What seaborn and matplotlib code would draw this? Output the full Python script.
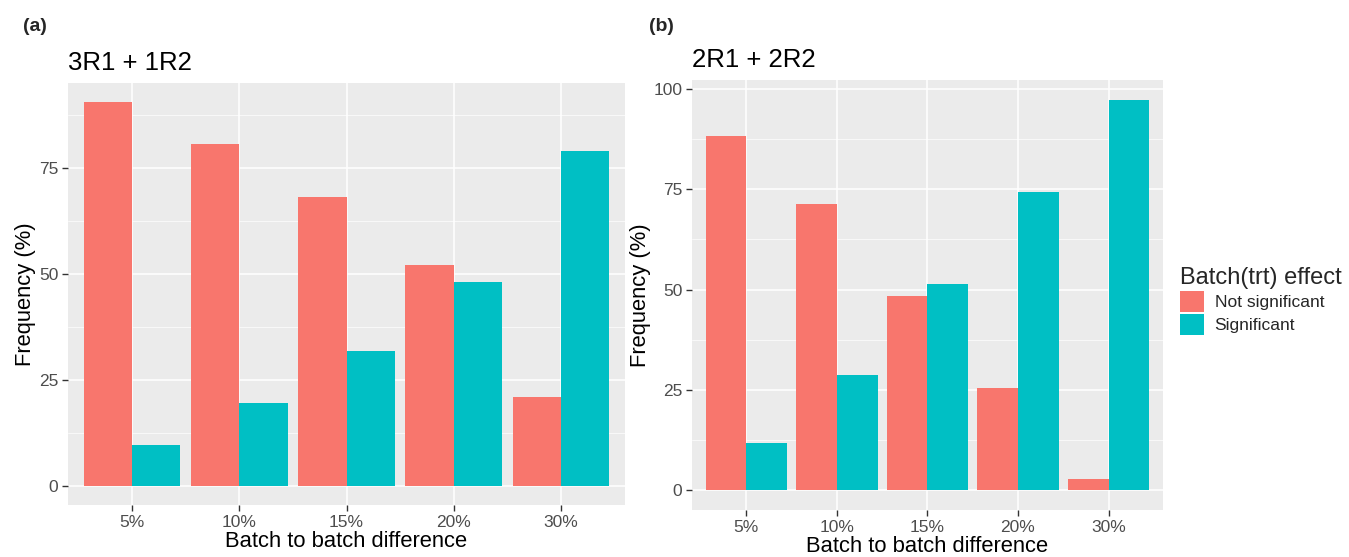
import pandas as pd
import matplotlib.pyplot as plt
import seaborn as sns
from matplotlib.patches import Patch

# =============================
# DATA
# =============================
differences = ["5%", "10%", "15%", "20%", "30%"]
groups = ["Not significant", "Significant"]

# panel (a): 3R1 + 1R2
a_not_sig = [90.5, 80.5, 68.2, 52.0, 21.0]
a_sig = [9.5, 19.5, 31.8, 48.0, 79.0]

# panel (b): 2R1 + 2R2
b_not_sig = [88.2, 71.2, 48.5, 25.6, 2.8]
b_sig = [11.8, 28.8, 51.5, 74.4, 97.3]

colors = ["#F8766D", "#00BFC4"]


def make_df(not_sig, sig):
    return pd.DataFrame({
        "difference": differences * 2,
        "effect": [groups[0]] * 5 + [groups[1]] * 5,
        "freq": not_sig + sig,
    })


sns.set_theme(style="darkgrid")
plt.rcParams["font.family"] = ["Liberation Sans", "DejaVu Sans"]

fig = plt.figure(figsize=(13.49, 5.57), dpi=100)
ax_a = fig.add_axes([0.0504, 0.0934, 0.413, 0.758])
ax_b = fig.add_axes([0.513, 0.0844, 0.349, 0.772])


def draw_panel(ax, df, title, yticks, ymax):
    sns.barplot(data=df, x="difference", y="freq", hue="effect",
                order=differences, hue_order=groups, palette=colors,
                width=0.9, gap=0, saturation=1, errorbar=None,
                linewidth=0, ax=ax, legend=False)
    ax.set_facecolor("#EBEBEB")
    for s in ax.spines.values():
        s.set_visible(False)
    ax.set_xlim(-0.6, 4.6)
    top = ymax * 1.05
    ax.set_ylim(-ymax * 0.05, top)
    ax.set_yticks(yticks)
    minor = [t + 12.5 for t in yticks if t + 12.5 < top]
    ax.set_yticks(minor, minor=True)
    ax.grid(True, which="major", color="white", linewidth=1.1)
    ax.grid(True, which="minor", axis="y", color="white", linewidth=0.5)
    ax.set_axisbelow(True)
    ax.tick_params(axis="both", which="major", length=4, width=1, color="#333333",
                   labelsize=12.5, labelcolor="#4D4D4D", pad=3, bottom=True, left=True)
    ax.tick_params(axis="both", which="minor", length=0)
    ax.set_xlabel("Batch to batch difference", fontsize=15.8, color="black", labelpad=1)
    ax.set_ylabel("Frequency (%)", fontsize=15.8, color="black", labelpad=2)
    ax.set_title(title, loc="left", fontsize=18.5, color="black", pad=9)


draw_panel(ax_a, make_df(a_not_sig, a_sig), "3R1 + 1R2", [0, 25, 50, 75], max(a_not_sig + a_sig))
draw_panel(ax_b, make_df(b_not_sig, b_sig), "2R1 + 2R2", [0, 25, 50, 75, 100], max(b_not_sig + b_sig))

fig.text(0.017, 0.944, "(a)", fontsize=14, fontweight="bold")
fig.text(0.481, 0.944, "(b)", fontsize=14, fontweight="bold")

handles = [Patch(facecolor=c, edgecolor="none") for c in colors]
leg = fig.legend(handles, groups, loc="upper left", bbox_to_anchor=(0.863, 0.548),
                 title="Batch(trt) effect", fontsize=12.5, title_fontsize=17,
                 frameon=False, handlelength=1.4, handleheight=1.5,
                 handletextpad=0.6, labelspacing=0.1)
leg._legend_box.align = "left"

plt.savefig("out.png", dpi=100)
